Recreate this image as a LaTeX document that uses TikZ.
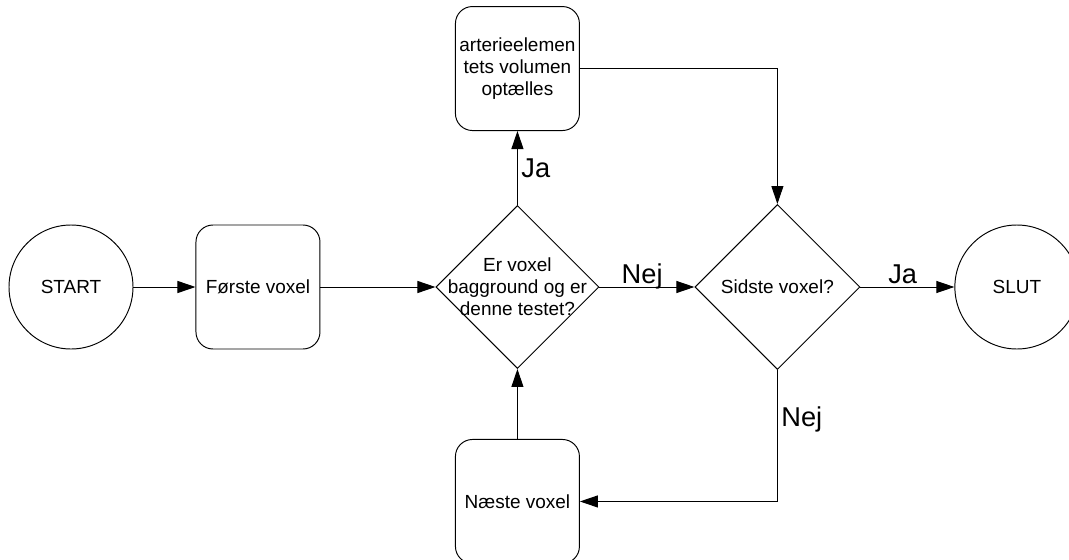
\documentclass[tikz,border=0pt]{standalone}
\usepackage{fontspec}
\setsansfont{Liberation Sans}
\usetikzlibrary{shapes.geometric, arrows.meta, positioning}

\begin{document}
\begin{tikzpicture}[
    node distance=1.5cm,
    font=\sffamily\fontsize{10.8}{12.5}\selectfont,
    line width=0.55pt,
    terminal/.style={circle, draw=black, minimum size=2.48cm, inner sep=0pt},
    process/.style={rectangle, rounded corners=0.34cm, draw=black, align=center, minimum width=2.48cm, minimum height=2.48cm, inner sep=2pt},
    decision/.style={diamond, draw=black, minimum size=3.26cm, inner sep=0pt},
    answer/.style={font=\sffamily\fontsize{15.5}{18}\selectfont, inner sep=2pt},
    arrow/.style={-{Triangle[length=0.36cm, width=0.24cm]}}
]

\useasboundingbox (0,0) rectangle (21.38,-11.2);

% Nodes
\node (start) [terminal] at (1.42,-5.74) {START};
\node (first) [process, right=1.24cm of start] {Første voxel};
\node (check) [decision, right=2.3cm of first, label={[align=center]center:Er voxel\\bagground og er\\denne testet?}] {};
\node (count) [process, above=1.48cm of check] {arterieelemen\\tets volumen\\optælles};
\node (next) [process, below=1.4cm of check] {Næste voxel};
\node (last) [decision, minimum size=3.3cm, right=1.9cm of check] {Sidste voxel?};
\node (stop) [terminal, right=1.88cm of last] {SLUT};

% Connections
\draw [arrow] (start) -- (first);
\draw [arrow] (first) -- (check);
\draw [arrow] (check) -- node[answer, anchor=base, yshift=0.08cm, pos=0.45] {Nej} (last);
\draw [arrow] (last) -- node[answer, anchor=base, yshift=0.08cm, pos=0.45] {Ja} (stop);
\draw [arrow] (check) -- node[answer, right] {Ja} (count);
\draw [arrow] (count.east) -| (last.north);
\draw [arrow] (last.south) |- node[answer, right, pos=0.19] {Nej} (next.east);
\draw [arrow] (next) -- (check);

\end{tikzpicture}
\end{document}
